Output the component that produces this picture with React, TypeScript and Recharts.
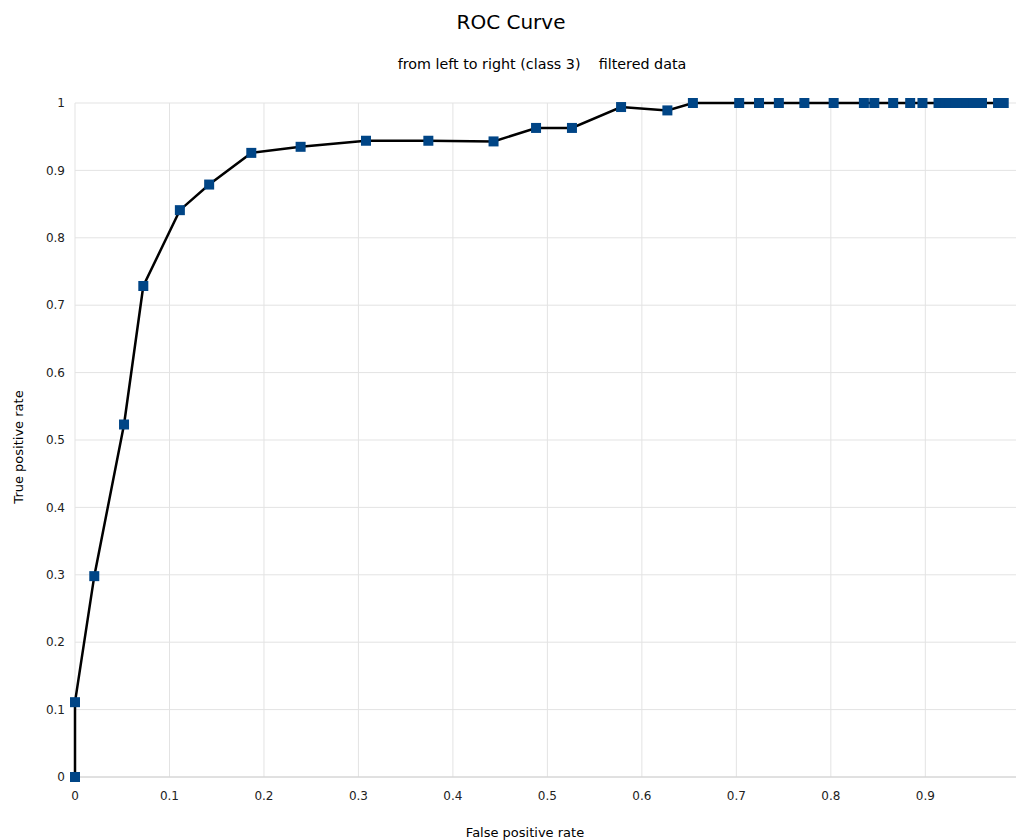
import React from "react";
import { ComposedChart, Line, Scatter, XAxis, YAxis, CartesianGrid } from "recharts";

const fpr = [0, 0, 0.0204, 0.0519, 0.0723, 0.111, 0.142, 0.1866, 0.2388, 0.308, 0.374, 0.443, 0.488, 0.526, 0.578, 0.627, 0.654, 0.703, 0.724, 0.745, 0.772, 0.803, 0.835, 0.846, 0.866, 0.884, 0.897, 0.914, 0.921, 0.926, 0.932, 0.939, 0.944, 0.951, 0.96, 0.977, 0.983];
const tpr = [0, 0.111, 0.298, 0.523, 0.7285, 0.841, 0.879, 0.926, 0.935, 0.944, 0.944, 0.943, 0.963, 0.963, 0.994, 0.989, 1, 1, 1, 1, 1, 1, 1, 1, 1, 1, 1, 1, 1, 1, 1, 1, 1, 1, 1, 1, 1];
const xTicks = [0, 0.1, 0.2, 0.3, 0.4, 0.5, 0.6, 0.7, 0.8, 0.9];
const yTicks = [0, 0.1, 0.2, 0.3, 0.4, 0.5, 0.6, 0.7, 0.8, 0.9, 1];
const title = "ROC Curve";
const subtitle = "from left to right (class 3)    filtered data";
const xLabel = "False positive rate";
const yLabel = "True positive rate";

const data = fpr.map((x, i) => ({ x, y: tpr[i] }));
const FONT = "DejaVu Sans";

const Square = (props: any) => {
  const { cx, cy } = props;
  if (cx == null || cy == null) return null;
  return <rect x={cx - 5} y={cy - 5} width={10} height={10} fill="#004586" />;
};

export default function App() {
  return (
    <div style={{ position: "absolute", left: 0, top: 0, width: 1017, height: 840, background: "#fff" }}>
      <ComposedChart
        width={1017}
        height={840}
        data={data}
        margin={{ top: 103, right: 1, bottom: 33, left: 0 }}
      >
        <CartesianGrid stroke="#e3e3e3" strokeWidth={1} verticalValues={xTicks} horizontalValues={yTicks} />
        <XAxis
          type="number"
          dataKey="x"
          domain={[0, 0.996]}
          ticks={xTicks}
          height={30}
          tickLine={false}
          axisLine={{ stroke: "#d0d0d0" }}
          tickSize={0}
          tickMargin={14}
          tick={{ fontFamily: FONT, fontSize: 12, fill: "#222" }}
        />
        <YAxis
          type="number"
          dataKey="y"
          domain={[0, 1]}
          ticks={yTicks}
          width={75}
          tickLine={false}
          axisLine={false}
          tickSize={0}
          tickMargin={10}
          tick={{ fontFamily: FONT, fontSize: 12, fill: "#222" }}
        />
        <Scatter data={data} dataKey="y" shape={<Square />} isAnimationActive={false} />
        <Line
          data={data}
          dataKey="y"
          type="linear"
          stroke="#000"
          strokeWidth={2.5}
          dot={false}
          activeDot={false}
          isAnimationActive={false}
        />
      </ComposedChart>
      <svg width={1017} height={840} style={{ position: "absolute", left: 0, top: 0, pointerEvents: "none" }}>
        <text x={511} y={29} textAnchor="middle" fontFamily={FONT} fontSize={20} fill="#000">{title}</text>
        <text x={542} y={69} textAnchor="middle" fontFamily={FONT} fontSize={14.3} fill="#000" style={{ whiteSpace: "pre" }}>{subtitle}</text>
        <text x={525} y={837} textAnchor="middle" fontFamily={FONT} fontSize={13} fill="#000">{xLabel}</text>
        <text x={23} y={447} textAnchor="middle" fontFamily={FONT} fontSize={13} fill="#000" transform="rotate(-90 23 447)">{yLabel}</text>
      </svg>
    </div>
  );
}
